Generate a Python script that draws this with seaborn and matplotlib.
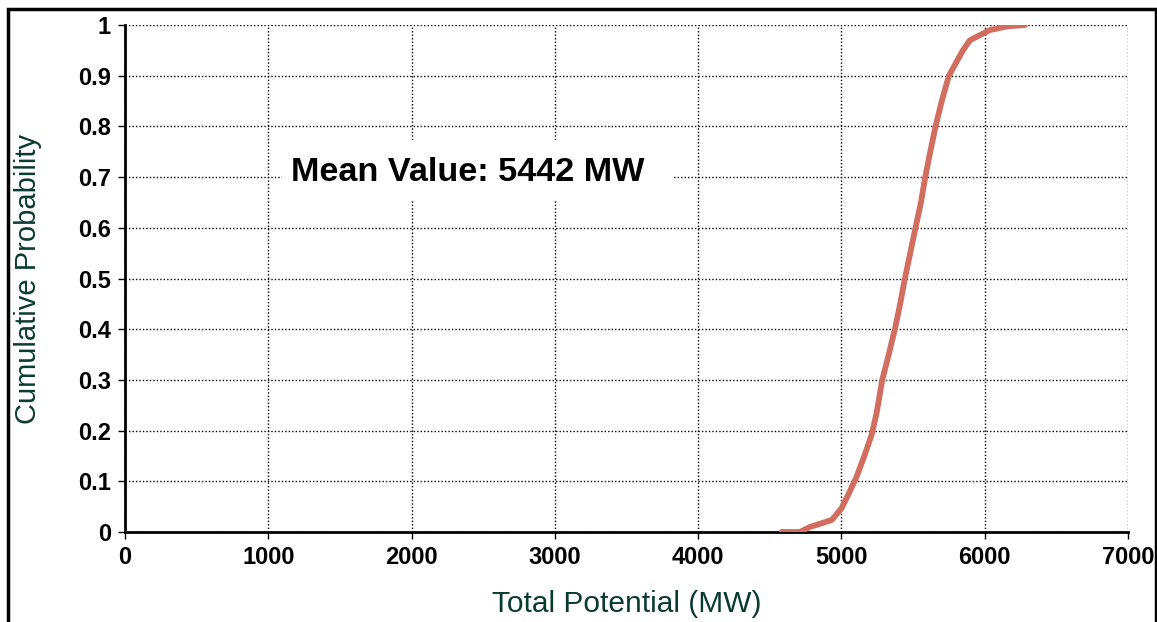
import matplotlib
matplotlib.use("Agg")
import matplotlib.pyplot as plt
from matplotlib.patches import Rectangle
import seaborn as sns
import pandas as pd

# Cumulative distribution of total potential (MW)
potential_mw = [4583, 4710, 4780, 4870, 4934, 5001, 5050, 5106, 5160, 5210,
                5245, 5285, 5330, 5373, 5410, 5443, 5480, 5517, 5555, 5585,
                5620, 5657, 5700, 5750, 5848, 5897, 5966, 6036, 6152, 6280]
cum_prob = [0.0, 0.0, 0.01, 0.018, 0.024, 0.047, 0.075, 0.109, 0.15, 0.191,
            0.234, 0.30, 0.35, 0.40, 0.45, 0.50, 0.55, 0.60, 0.65, 0.70,
            0.75, 0.80, 0.85, 0.90, 0.95, 0.97, 0.98, 0.99, 0.997, 1.0]
mean_value = 5442

x_ticks = [0, 1000, 2000, 3000, 4000, 5000, 6000, 7000]
y_ticks = [0, 0.1, 0.2, 0.3, 0.4, 0.5, 0.6, 0.7, 0.8, 0.9, 1]
y_tick_labels = ["0", "0.1", "0.2", "0.3", "0.4", "0.5", "0.6", "0.7", "0.8", "0.9", "1"]

sns.set_theme(style="white")
plt.rcParams["font.family"] = ["Liberation Sans", "DejaVu Sans"]

df = pd.DataFrame({"potential": potential_mw, "prob": cum_prob})

fig = plt.figure(figsize=(11.57, 6.22), dpi=100)
ax = fig.add_axes([125 / 1157, 1 - 532 / 622, (1128 - 125) / 1157, (532 - 25) / 622])

# outer frame around the whole chart
fig.patches.append(Rectangle((8 / 1157, -0.1), (1156 - 8) / 1157, 1.1 - 9 / 622,
                             transform=fig.transFigure, fill=False,
                             edgecolor="black", linewidth=2.5, zorder=0))

sns.lineplot(data=df, x="potential", y="prob", sort=False, ax=ax,
             color="#D26E5F", linewidth=4.2, zorder=3)

ax.set_xlim(0, 7000)
ax.set_ylim(0, 1)
ax.set_xticks(x_ticks)
ax.set_xticklabels([str(v) for v in x_ticks], fontsize=17, fontweight="bold")
ax.set_yticks(y_ticks)
ax.set_yticklabels(y_tick_labels, fontsize=17, fontweight="bold")
ax.tick_params(axis="both", which="major", direction="out", length=5, width=1,
               color="black", pad=5, bottom=True, left=True, labelcolor="black")

ax.grid(True, color="black", linestyle=(0, (1, 1.5)), linewidth=1)
for side in ("top", "right"):
    ax.spines[side].set_visible(False)
for side in ("left", "bottom"):
    ax.spines[side].set_visible(True)
    ax.spines[side].set_color("black")
    ax.spines[side].set_linewidth(2)

label_color = "#0A3B32"
ax.set_xlabel("Total Potential (MW)", fontsize=21.5, color=label_color, labelpad=15)
ax.set_ylabel("Cumulative Probability", fontsize=21, color=label_color, labelpad=26)

# white box with the mean value, covering the grid behind it
ax.add_patch(Rectangle((1096, 0.655), 3824 - 1096, 0.773 - 0.655,
                       facecolor="white", edgecolor="none", zorder=2.5))
ax.text(1160, 0.709, f"Mean Value: {mean_value} MW", fontsize=24.7,
        fontweight="bold", color="black", ha="left", va="center", zorder=4)

fig.savefig("out.png", dpi=100, facecolor="white")
